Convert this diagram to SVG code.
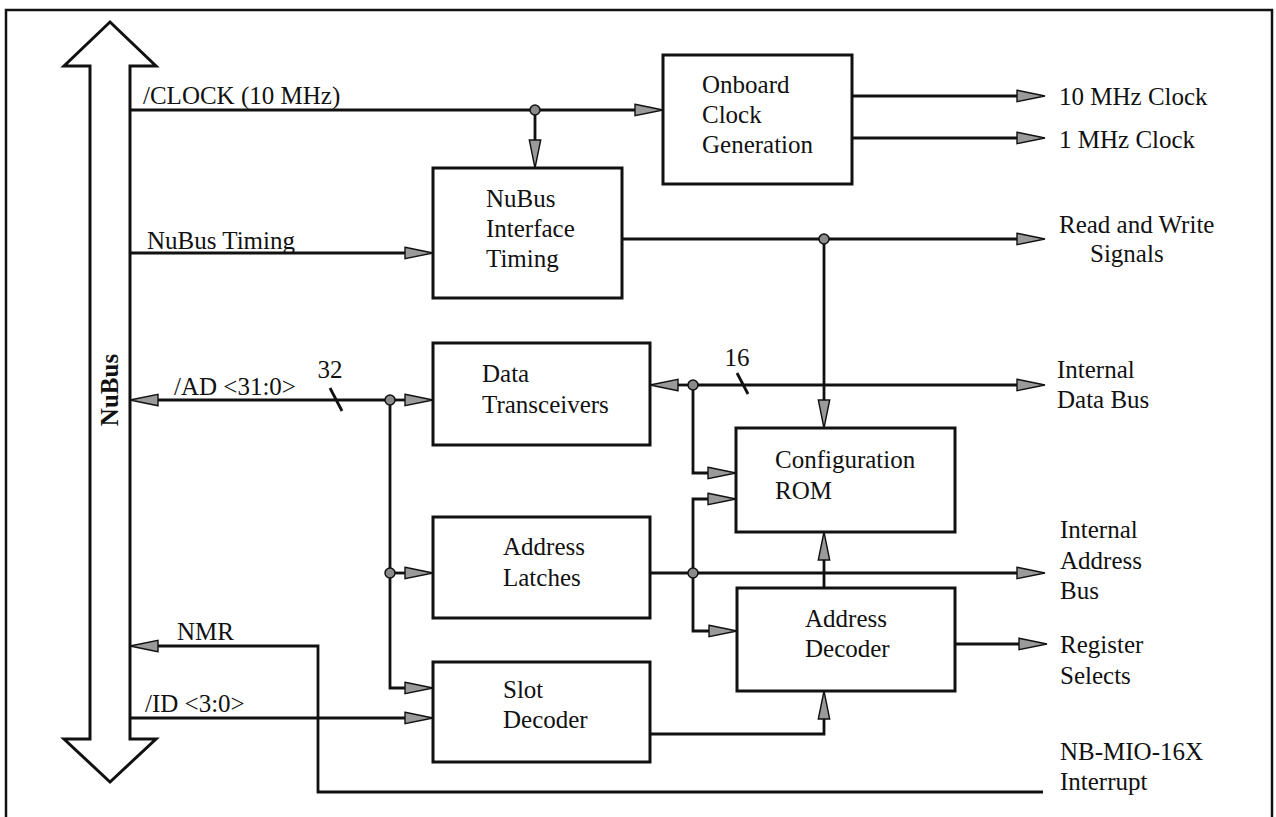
<svg xmlns="http://www.w3.org/2000/svg" width="1276" height="817" viewBox="0 0 1276 817">
<style>
text{font-family:"Liberation Serif",Tinos,"Noto Serif","DejaVu Serif","Times New Roman",Times,serif;font-size:25px;fill:#111}
.box{fill:#fff;stroke:#111;stroke-width:3}
.w{fill:none;stroke:#111;stroke-width:2.8}
.a{fill:none;stroke:#111;stroke-width:2.8;marker-end:url(#ah)}
.dot{fill:#8a8a8a;stroke:#111;stroke-width:1.5}
</style>
<defs>
<marker id="ah" markerUnits="userSpaceOnUse" markerWidth="30" markerHeight="14" refX="0" refY="6.5" orient="auto" overflow="visible">
<path d="M0,0.8 L28,6.5 L0,12.2 Z" fill="#9a9a9a" stroke="#111" stroke-width="1.4"/>
</marker>
</defs>
<rect x="6" y="10" width="1266" height="830" fill="#fff" stroke="#111" stroke-width="2.5"/>

<g id="nubus">
<polygon points="110,22 64,66 90,66 90,739 64,739 110,782 156,739 130,739 130,66 156,66" fill="#fff" stroke="#111" stroke-width="3"/>
<text transform="translate(118,390) rotate(-90)" text-anchor="middle" font-weight="bold">NuBus</text>
</g>

<g id="connectors">
<path class="a" d="M130,110 H635"/>
<path class="a" d="M535,110 V140"/>
<path class="a" d="M852,96 H1017"/>
<path class="a" d="M852,138 H1017"/>
<path class="a" d="M130,253 H405"/>
<path class="a" d="M622,239 H1017"/>
<path class="a" d="M824,239 V400"/>
<path class="a" d="M390,400 H158"/>
<path class="a" d="M390,400 H405"/>
<path class="w" d="M330,388 L342,411"/>
<path class="a" d="M390,400 V688 H405"/>
<path class="a" d="M390,573 H405"/>
<path class="a" d="M693,385 H678"/>
<path class="a" d="M693,385 H1017"/>
<path class="w" d="M737,373 L748,394"/>
<path class="a" d="M693,385 V473 H708"/>
<path class="a" d="M650,573 H1017"/>
<path class="a" d="M693,573 V499 H708"/>
<path class="a" d="M693,573 V631 H709"/>
<path class="a" d="M824,588 V560"/>
<path class="a" d="M650,734 H824 V719"/>
<path class="a" d="M955,644 H1019"/>
<path class="a" d="M1043,792 H318 V646 H158"/>
<path class="a" d="M130,718 H405"/>
<circle class="dot" cx="535" cy="110" r="5"/>
<circle class="dot" cx="824" cy="239" r="5"/>
<circle class="dot" cx="390" cy="400" r="5"/>
<circle class="dot" cx="390" cy="573" r="5"/>
<circle class="dot" cx="693" cy="385" r="5"/>
<circle class="dot" cx="693" cy="573" r="5"/>
</g>

<g id="labels">
<text x="143" y="104">/CLOCK (10 MHz)</text>
<text x="147" y="249">NuBus Timing</text>
<text x="174" y="395">/AD &lt;31:0&gt;</text>
<text x="330" y="378" text-anchor="middle">32</text>
<text x="737" y="366" text-anchor="middle">16</text>
<text x="177" y="640">NMR</text>
<text x="145" y="712">/ID &lt;3:0&gt;</text>
<text x="1059" y="105">10 MHz Clock</text>
<text x="1059" y="148">1 MHz Clock</text>
<text x="1059" y="233">Read and Write</text>
<text x="1090" y="262">Signals</text>
<text x="1057" y="378">Internal</text>
<text x="1057" y="408">Data Bus</text>
<text x="1060" y="538">Internal</text>
<text x="1060" y="569">Address</text>
<text x="1060" y="599">Bus</text>
<text x="1060" y="653">Register</text>
<text x="1060" y="684">Selects</text>
<text x="1060" y="760">NB-MIO-16X</text>
<text x="1060" y="790">Interrupt</text>
</g>

<g id="onboard-clock">
<rect class="box" x="663" y="55" width="189" height="129"/>
<text x="702" y="93">Onboard</text>
<text x="702" y="123">Clock</text>
<text x="702" y="153">Generation</text>
</g>

<g id="interface-timing">
<rect class="box" x="433" y="168" width="189" height="130"/>
<text x="486" y="207">NuBus</text>
<text x="486" y="237">Interface</text>
<text x="486" y="267">Timing</text>
</g>

<g id="data-transceivers">
<rect class="box" x="433" y="343" width="217" height="102"/>
<text x="482" y="382">Data</text>
<text x="482" y="413">Transceivers</text>
</g>

<g id="config-rom">
<rect class="box" x="736" y="428" width="219" height="104"/>
<text x="775" y="468">Configuration</text>
<text x="775" y="499">ROM</text>
</g>

<g id="address-latches">
<rect class="box" x="433" y="517" width="217" height="101"/>
<text x="503" y="555">Address</text>
<text x="503" y="586">Latches</text>
</g>

<g id="address-decoder">
<rect class="box" x="737" y="588" width="218" height="103"/>
<text x="805" y="627">Address</text>
<text x="805" y="657">Decoder</text>
</g>

<g id="slot-decoder">
<rect class="box" x="433" y="662" width="217" height="100"/>
<text x="503" y="698">Slot</text>
<text x="503" y="728">Decoder</text>
</g>
</svg>
